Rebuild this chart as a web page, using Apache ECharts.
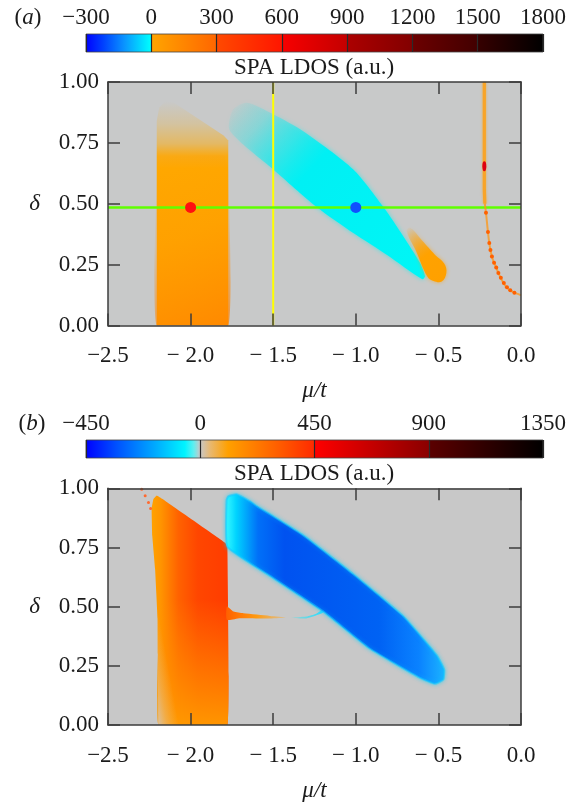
<!DOCTYPE html>
<html>
<head>
<meta charset="utf-8">
<script src="https://cdn.jsdelivr.net/npm/echarts@6/dist/echarts.min.js"></script>
<style>html,body{margin:0;padding:0;background:#fff}#c{width:587px;height:803px}</style>
</head>
<body>
<div id="c"></div>
<script>
// ---------- data ----------
const xTicks = [-2.5, -2.0, -1.5, -1.0, -0.5, 0.0];
const xTickLabels = ['\u22122.5', '\u2212 2.0', '\u2212 1.5', '\u2212 1.0', '\u2212 0.5', '0.0'];
const yTicks = [0, 0.25, 0.5, 0.75, 1.0];
const yTickLabels = ['0.00', '0.25', '0.50', '0.75', '1.00'];

const cbTicksA = [-300, 0, 300, 600, 900, 1200, 1500, 1800];
const cbLabelsA = ['\u2212300', '0', '300', '600', '900', '1200', '1500', '1800'];
const cbTicksB = [-450, 0, 450, 900, 1350];
const cbLabelsB = ['\u2212450', '0', '450', '900', '1350'];

// colour maps: [value, colour]
const cmapA = [[-300,'#0000ff'],[-220,'#0040ff'],[-120,'#0a96ff'],[-30,'#00e6ff'],[0,'#00ffff'],
  [0,'#ffa500'],[300,'#ff6600'],[300,'#ff4a00'],[600,'#ff1600'],[600,'#f80000'],[900,'#c40000'],
  [900,'#ac0000'],[1200,'#820000'],[1200,'#6c0000'],[1500,'#420000'],[1500,'#360000'],[1800,'#000000']];
const cmapB = [[-450,'#0000ff'],[-330,'#0050ff'],[-180,'#00a8ff'],[-60,'#00f4ff'],[-25,'#60eef0'],[0,'#c8c8c8'],
  [40,'#e8b870'],[110,'#ffa000'],[300,'#ff6000'],[450,'#ff2a00'],[450,'#ff0000'],[900,'#8a0000'],
  [900,'#5c0000'],[1350,'#000000']];

// panel (a) regions [mu/t, delta]
const orangeBlockA = [[-2.205,0],[-2.205,0.84],[-2.19,0.895],[-2.15,0.922],[-2.10,0.915],[-1.80,0.78],[-1.772,0.76],[-1.772,0]];
const orangeCoreA = [[-2.205,0],[-2.205,0.60],[-2.16,0.69],[-1.80,0.70],[-1.772,0.64],[-1.772,0]];
const cyanBandA = [[-1.745,0.885],[-1.661,0.915],[-1.50,0.868],[-1.318,0.798],[-1.015,0.641],[-0.833,0.487],
  [-0.712,0.366],[-0.611,0.257],[-0.581,0.202],[-0.597,0.19],[-0.813,0.291],[-1.015,0.38],[-1.237,0.487],
  [-1.499,0.641],[-1.762,0.80]];
const orangeBlobA = [[-0.692,0.388],[-0.672,0.402],[-0.60,0.35],[-0.52,0.29],[-0.465,0.255],[-0.452,0.216],
  [-0.48,0.181],[-0.53,0.183],[-0.565,0.199],[-0.635,0.305]];
const curveTopA = [[-0.222,1.0],[-0.222,0.75],[-0.222,0.56],[-0.219,0.50]];
const curveLowA = [[-0.219,0.50],[-0.212,0.463],[-0.200,0.384],[-0.192,0.339],[-0.182,0.300],[-0.170,0.270],
  [-0.153,0.243],[-0.137,0.216],[-0.117,0.188],[-0.091,0.160],[-0.056,0.140],[-0.006,0.126],[0.0,0.125]];
const curveRedA = [[-0.222,0.654]];
const curveDotsA = [[-0.212,0.463],[-0.200,0.384],[-0.192,0.339],[-0.185,0.310],[-0.176,0.283],[-0.163,0.258],
  [-0.150,0.238],[-0.137,0.216],[-0.122,0.196],[-0.104,0.175],[-0.085,0.157],[-0.065,0.145],[-0.040,0.135]];
const yellowLineA = [[-1.5,0],[-1.5,1]];
const greenLineA = [[-2.5,0.485],[0,0.485]];
const redPointA = [[-2.0,0.485]];
const bluePointA = [[-1.0,0.485]];

// panel (b) regions
const orangeBlockB = [[-2.236,0.915],[-2.225,0.955],[-2.205,0.97],[-2.17,0.955],[-1.79,0.77],[-1.777,0.75],
  [-1.777,0],[-2.195,0],[-2.198,0.30],[-2.20,0.45],[-2.215,0.66],[-2.232,0.80]];
const orangeFadeB = [[-2.196,0],[-2.20,0.5],[-2.07,0]];
const orangeTailB = [[-1.78,0.50],[-1.74,0.479],[-1.68,0.472],[-1.52,0.461],[-1.42,0.454],[-1.52,0.450],[-1.70,0.451],[-1.78,0.445]];
const cyanTailB = [[-1.39,0.453],[-1.30,0.458],[-1.24,0.47],[-1.19,0.492],[-1.20,0.474],[-1.30,0.450]];
const blueBandB = [[-1.782,0.95],[-1.772,0.966],[-1.721,0.975],[-1.640,0.945],[-1.600,0.925],[-1.318,0.801],
  [-1.015,0.637],[-0.712,0.459],[-0.510,0.295],[-0.465,0.235],[-0.470,0.192],[-0.521,0.174],[-0.611,0.199],
  [-0.914,0.322],[-1.197,0.480],[-1.519,0.630],[-1.777,0.753]];
const dotsB = [[-2.296,0.996],[-2.275,0.968],[-2.255,0.94],[-2.242,0.915]];

// ---------- chart ----------
const FONT = '"Liberation Serif", "Times New Roman", serif';
const FS = 23;
const TXT = '#1b1b1b';
const AX = '#3c3c3c';
const chart = echarts.init(document.getElementById('c'), null, {renderer: 'canvas'});

function lin(x, y, x2, y2, stops, global) {
  return {type: 'linear', x, y, x2, y2, global: !!global, colorStops: stops.map(s => ({offset: s[0], color: s[1]}))};
}
function poly(gi, pts, fill, extra) {
  extra = extra || {};
  return {
    type: 'custom', xAxisIndex: gi * 2, yAxisIndex: gi * 2, clip: true, z: extra.z || 2,
    data: pts, silent: true,
    renderItem: function (params, api) {
      if (params.dataIndex !== 0) return null;
      const points = pts.map(p => api.coord(p));
      return {type: 'polygon', shape: {points, smooth: extra.smooth || 0},
        style: Object.assign({fill: typeof fill === 'function' ? fill(points) : fill}, extra.style || {})};
    }
  };
}
// gradient from the first vertex of a triangle towards its opposite side (pixel space)
function cornerFade(stops) {
  return function (p) {
    const a = p[0], b = p[1], c = p[2];
    const dx = c[0] - b[0], dy = c[1] - b[1];
    const t = ((a[0] - b[0]) * dx + (a[1] - b[1]) * dy) / (dx * dx + dy * dy);
    const f = [b[0] + t * dx, b[1] + t * dy];
    return lin(a[0], a[1], f[0], f[1], stops, true);
  };
}
function colorbar(axisIdx, cmap) {
  const lo = cmap[0][0], hi = cmap[cmap.length - 1][0];
  return {
    type: 'custom', xAxisIndex: axisIdx, yAxisIndex: axisIdx, data: [[lo, hi]], silent: true, z: 1,
    renderItem: function (params, api) {
      const p0 = api.coord([api.value(0), 0]);
      const p1 = api.coord([api.value(1), 1]);
      return {type: 'rect', shape: {x: p0[0], y: p1[1], width: p1[0] - p0[0], height: p0[1] - p1[1]},
        style: {fill: lin(0, 0, 1, 0, cmap.map(c => [(c[0] - lo) / (hi - lo), c[1]])), stroke: '#444', lineWidth: 0.8}};
    }
  };
}
function mainX(gi, bottom) {
  return {
    type: 'value', gridIndex: gi, position: bottom ? 'bottom' : 'top', min: -2.5, max: 0, interval: 0.5, z: 5,
    axisLine: {show: true, onZero: false, lineStyle: {color: AX, width: 1.5}},
    axisTick: {show: true, inside: true, length: 12, lineStyle: {color: AX, width: 1.5}},
    splitLine: {show: false},
    axisLabel: {show: bottom, margin: 19, fontFamily: FONT, fontSize: FS, color: TXT,
      formatter: v => { const i = xTicks.findIndex(t => Math.abs(t - v) < 1e-6); return i >= 0 ? xTickLabels[i] : ''; }},
    name: bottom ? '\u03bc/t' : '', nameLocation: 'middle', nameGap: 54,
    nameTextStyle: {fontFamily: FONT, fontSize: FS, fontStyle: 'italic', color: TXT}
  };
}
function mainY(gi, left) {
  return {
    type: 'value', gridIndex: gi, position: left ? 'left' : 'right', min: 0, max: 1, interval: 0.25, z: 5,
    axisLine: {show: true, onZero: false, lineStyle: {color: AX, width: 1.5}},
    axisTick: {show: true, inside: true, length: 12, lineStyle: {color: AX, width: 1.5}},
    splitLine: {show: false},
    axisLabel: {show: left, margin: 9, fontFamily: FONT, fontSize: FS, color: TXT,
      formatter: v => { const i = yTicks.findIndex(t => Math.abs(t - v) < 1e-6); return i >= 0 ? yTickLabels[i] : ''; }},
    name: left ? '\u03b4' : '', nameLocation: 'middle', nameGap: 68, nameRotate: 0,
    nameTextStyle: {fontFamily: FONT, fontSize: FS, fontStyle: 'italic', color: TXT}
  };
}
function cbX(gi, ticks, labels) {
  return {
    type: 'value', gridIndex: gi, position: 'top', min: ticks[0], max: ticks[ticks.length - 1],
    interval: ticks[1] - ticks[0], z: 5,
    axisLine: {show: false, onZero: false},
    axisTick: {show: true, inside: true, length: 18, lineStyle: {color: '#2a2a2a', width: 1.2}},
    splitLine: {show: false},
    axisLabel: {show: true, margin: 5, fontFamily: FONT, fontSize: FS, color: TXT,
      formatter: v => { const i = ticks.findIndex(t => Math.abs(t - v) < 1e-6); return i >= 0 ? labels[i] : ''; }}
  };
}
function cbY(gi) { return {type: 'value', gridIndex: gi, min: 0, max: 1, show: false}; }

function line(gi, data, color, width, extra) {
  return Object.assign({type: 'line', xAxisIndex: gi * 2, yAxisIndex: gi * 2, data, symbol: 'none', silent: true,
    lineStyle: {color, width}, z: 3}, extra || {});
}
function pts(gi, data, color, size, extra) {
  return Object.assign({type: 'scatter', xAxisIndex: gi * 2, yAxisIndex: gi * 2, data, symbolSize: size, silent: true,
    itemStyle: {color, opacity: 1}, z: 4}, extra || {});
}

const label = (t, x, y) => ({type: 'text', x, y, style: {text: t, fontFamily: FONT, fontSize: FS, fill: TXT,
  textAlign: 'center', textVerticalAlign: 'middle',
  rich: {p: {fontFamily: FONT, fontSize: FS, fill: TXT}, i: {fontFamily: FONT, fontSize: FS, fontStyle: 'italic', fill: TXT}}}});

const option = {
  backgroundColor: '#ffffff',
  animation: false,
  grid: [
    {left: 108, top: 82, width: 413, height: 243.5, show: true, backgroundColor: '#c8c9c9', borderWidth: 0},
    {left: 108, top: 488.3, width: 413, height: 243.4, show: true, backgroundColor: '#c8c8c8', borderWidth: 0},
    {left: 86, top: 34, width: 457, height: 18},
    {left: 86, top: 440, width: 457, height: 18}
  ],
  xAxis: [mainX(0, true), mainX(0, false), mainX(1, true), mainX(1, false),
    cbX(2, cbTicksA, cbLabelsA), cbX(3, cbTicksB, cbLabelsB)],
  yAxis: [mainY(0, true), mainY(0, false), mainY(1, true), mainY(1, false), cbY(2), cbY(3)],
  graphic: [
    label('{p|(}{i|a}{p|)}', 28, 18),
    label('{p|(}{i|b}{p|)}', 32, 424),
    label('SPA LDOS (a.u.)', 314, 68),
    label('SPA LDOS (a.u.)', 314, 474)
  ],
  series: [
    colorbar(4, cmapA),
    colorbar(5, cmapB),
    // ----- panel (a)
    poly(0, orangeBlockA, lin(0, 0, 0, 1, [[0,'rgba(255,170,0,0)'],[0.1,'rgba(255,170,0,0.2)'],[0.19,'rgba(255,168,0,0.5)'],
      [0.245,'rgba(255,166,0,0.9)'],[0.3,'#ffa800'],[1,'#ffa000']])),
    poly(0, orangeCoreA, lin(0, 0, 1, 1, [[0,'rgba(255,140,0,0)'],[0.45,'rgba(255,140,0,0.15)'],[1,'rgba(255,128,0,0.75)']]), {smooth: 0.1}),
    poly(0, cyanBandA, lin(0, 0, 1, 1, [[0,'rgba(0,238,242,0)'],[0.14,'rgba(0,238,242,0.22)'],[0.28,'rgba(0,238,242,0.6)'],
      [0.4,'rgba(0,240,244,1)'],[1,'#00f6f6']]), {smooth: 0.25, style: {shadowBlur: 5, shadowColor: 'rgba(0,240,240,0.6)'}}),
    poly(0, orangeBlobA, lin(0, 0, 1, 1, [[0,'rgba(255,160,0,0)'],[0.25,'rgba(255,160,0,0.5)'],[0.5,'#ffa200'],[1,'#ffa000']]),
      {smooth: 0.4, style: {shadowBlur: 4, shadowColor: 'rgba(255,160,0,0.6)'}}),
    line(0, yellowLineA, '#ffff00', 2),
    line(0, greenLineA, '#60ff00', 2.5),
    line(0, curveTopA, '#f8a428', 3.2, {lineStyle: {color: '#f8a428', width: 3.2, shadowBlur: 3, shadowColor: 'rgba(255,160,0,0.6)'}}),
    line(0, curveLowA, 'rgba(255,150,20,0.75)', 2, {smooth: true}),
    pts(0, curveDotsA, '#ff6000', 4),
    pts(0, curveRedA, '#dd0010', [4, 10], {symbol: 'circle'}),
    pts(0, redPointA, '#ff1010', 11),
    pts(0, bluePointA, '#1050ff', 11),
    // ----- panel (b)
    poly(1, orangeBlockB, lin(0, 0, 1, 0, [[0,'#ffa200'],[0.12,'#ff9400'],[0.35,'#ff6200'],[0.6,'#ff4600'],[1,'#ff3c00']]),
      {smooth: 0.05}),
    poly(1, orangeBlockB, lin(0, 0, 0, 1, [[0,'rgba(255,150,0,0)'],[0.45,'rgba(255,150,0,0)'],[0.75,'rgba(255,150,0,0.55)'],[1,'rgba(255,158,0,0.92)']]), {smooth: 0.05}),
    poly(1, orangeFadeB, cornerFade([[0,'rgba(212,200,188,0.85)'],[0.45,'rgba(228,192,145,0.45)'],[1,'rgba(235,190,130,0)']])),
    poly(1, orangeTailB, lin(0, 0, 1, 0, [[0,'#ff6000'],[0.5,'#ff9a10'],[1,'rgba(255,170,40,0.3)']]), {smooth: 0.2}),
    poly(1, cyanTailB, lin(0, 0, 1, 0, [[0,'rgba(0,240,255,0.2)'],[1,'#30d8ff']]), {smooth: 0.2}),
    poly(1, blueBandB, lin(0, 0, 1, 0, [[0,'#40ffff'],[0.05,'#00d4ff'],[0.15,'#0070f8'],[0.27,'#0052f0'],[0.7,'#0062f4'],
      [0.88,'#0a82ff'],[1,'#1cb4ff']]), {smooth: 0.12,
      style: {stroke: 'rgba(20,200,255,0.55)', lineWidth: 2, shadowBlur: 4, shadowColor: 'rgba(0,210,255,0.7)'}}),
    pts(1, dotsB, '#ff6a30', 3)
  ]
};
chart.setOption(option);
</script>
</body>
</html>
